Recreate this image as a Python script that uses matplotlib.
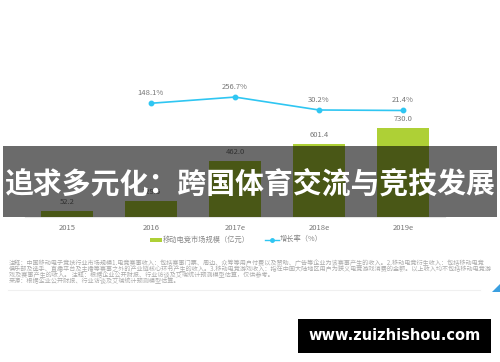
import matplotlib.pyplot as plt
from matplotlib.patches import Rectangle, Polygon
from matplotlib.lines import Line2D

plt.rcParams['font.family'] = ['Noto Sans CJK SC', 'DejaVu Sans']

# data
years = ['2015', '2016', '2017e', '2018e', '2019e']
market = [52.2, 129.5, 462.0, 601.4, 730.0]
growth_years = ['2016', '2017e', '2018e', '2019e']
growth = [148.1, 256.7, 30.2, 21.4]

title = '追求多元化：跨国体育交流与竞技发展'
bar_label = '移动电竞市场规模（亿元）'
line_label = '增长率（%）'
notes = [
    '注释：中国移动电子竞技行业市场规模1.电竞赛事收入：包括赛事门票、周边、众筹等用户付费以及赞助、广告等企业为该赛事产生的收入。2.移动电竞衍生收入：包括移动电竞',
    '俱乐部及选手、直播平台及主播等赛事之外的产业链核心环节产生的收入。3.移动电竞游戏收入：指在中国大陆地区用户为狭义电竞游戏消费的金额。以上收入均不包括移动电竞游',
    '戏及赛事产生的收入。 注释：根据企业公开财报、行业访谈及艾瑞统计预测模型估算，仅供参考。',
    '来源：根据企业公开财报、行业访谈及艾瑞统计预测模型估算。',
]
watermark = 'www.zuizhishou.com'

W, H = 500, 362
fig = plt.figure(figsize=(W / 100, H / 100), dpi=100)
fig.patch.set_facecolor('white')

def fx(px):
    return px / W

def fy(py):
    return 1 - py / H

# bars
ax = fig.add_axes([fx(25), fy(217), fx(445) - fx(25), fy(60) - fy(217)])
x = list(range(len(years)))
ax.bar(x, market, width=0.63, color='#aed036', zorder=2)
ax.set_xlim(-0.5, 4.5)
ax.set_ylim(0, 1288)
for xi, v in zip(x, market):
    ax.text(xi, v + 40, f'{v:.1f}', ha='center', va='bottom', fontsize=5.5, color='#777777')
for s in ['top', 'right', 'left']:
    ax.spines[s].set_visible(False)
ax.spines['bottom'].set_color('#e6e6e6')
ax.spines['bottom'].set_linewidth(0.8)
ax.set_yticks([])
ax.set_xticks(x)
ax.set_xticklabels(years, fontsize=5.5, color='#777777')
ax.tick_params(axis='x', length=0, pad=5)
ax.patch.set_alpha(0)

# growth line
ax2 = ax.twinx()
gx = [years.index(y) for y in growth_years]
ax2.plot(gx, growth, color='#2fc6f2', lw=1.2, marker='o', ms=3.2, zorder=3)
ax2.set_ylim(-1847, 907)
for xi, v in zip(gx, growth):
    ax2.text(xi, v + 110, f'{v:.1f}%', ha='center', va='bottom', fontsize=5.5, color='#777777')
ax2.axis('off')

# legend
fig.patches.append(Rectangle((fx(150), fy(241.5)), fx(12), fy(237.5) - fy(241.5),
                             transform=fig.transFigure, facecolor='#aed036', edgecolor='none'))
fig.text(fx(163), fy(239.5), bar_label, fontsize=5.2, color='#888888', va='center')
fig.lines.append(Line2D([fx(265), fx(272), fx(279)], [fy(239.5)] * 3, transform=fig.transFigure,
                        color='#2fc6f2', lw=1.0, marker='o', ms=2.5, markevery=[1]))
fig.text(fx(280), fy(239.5), line_label, fontsize=5.2, color='#888888', va='center')

# footnotes
fig.text(fx(9), fy(258.5), '\n'.join(notes), fontsize=4.4, linespacing=0.69,
         color='#aaaaaa', va='top')
fig.lines.append(Line2D([fx(8), fx(480)], [fy(290), fy(290)], transform=fig.transFigure,
                        color='#f0f0f0', lw=0.8))
fig.patches.append(Polygon([(fx(492), fy(292)), (fx(500), fy(292)), (fx(500), fy(284))],
                           closed=True, transform=fig.transFigure,
                           facecolor='#3a9fe0', edgecolor='none'))

# title banner
fig.patches.append(Rectangle((fx(3), fy(217)), fx(497) - fx(3), fy(146) - fy(217),
                             transform=fig.transFigure, facecolor='black', edgecolor='none',
                             alpha=0.58, zorder=5))
fig.text(0.5, fy(184), title, fontsize=20.8, fontweight='bold', color='white',
         ha='center', va='center', zorder=6)

# watermark
fig.patches.append(Rectangle((fx(298), fy(353)), fx(491) - fx(298), fy(319) - fy(353),
                             transform=fig.transFigure, facecolor='black', edgecolor='none',
                             zorder=5))
fig.text(fx(394.5), fy(336), watermark, fontsize=10.5, fontweight='bold', color='white',
         family='DejaVu Sans', ha='center', va='center', zorder=6)

fig.savefig('out.png', dpi=100)
